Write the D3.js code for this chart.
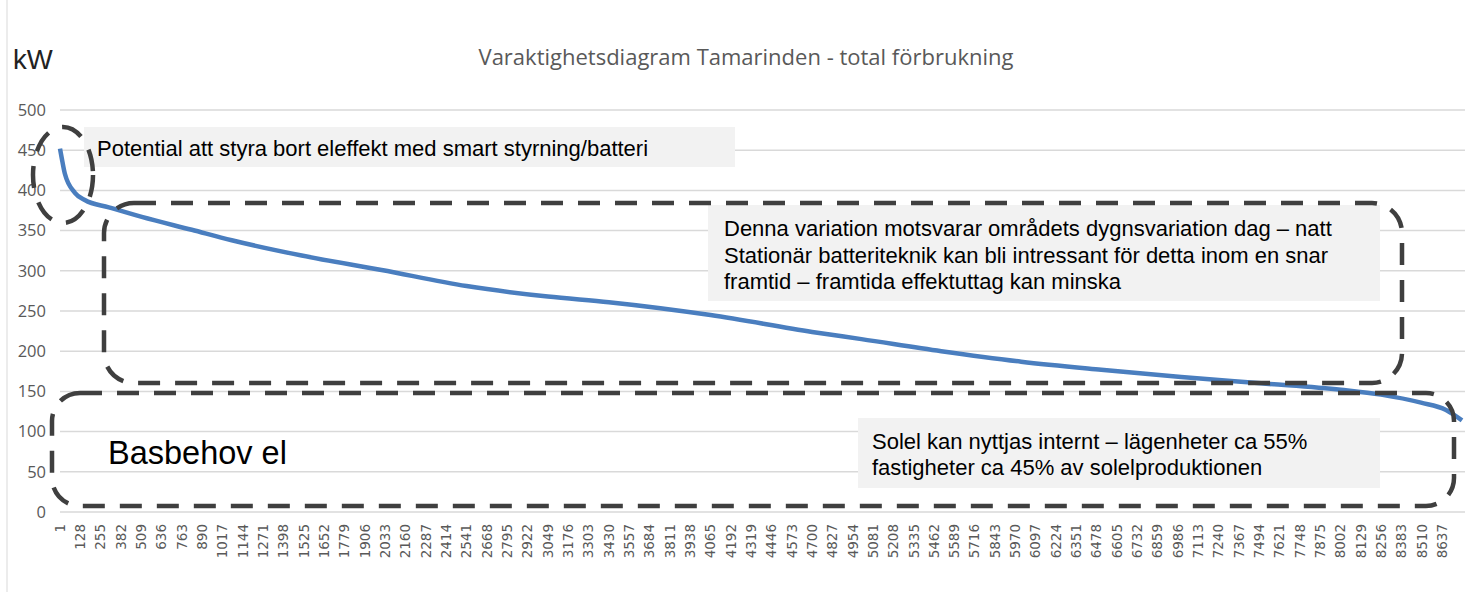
<!DOCTYPE html>
<html><head><meta charset="utf-8">
<script src="https://cdn.jsdelivr.net/npm/d3@7"></script>
<style>body{margin:0;background:#fff;}svg{display:block;}</style>
</head><body>
<svg id="c" width="1470" height="592"></svg>
<script>
// ---- data ----
const hours = [1, 12, 31, 94, 156, 306, 512, 824, 1074, 1511, 2010, 2541, 3049, 3430, 4065, 4700, 5008, 5507, 6006, 6506, 7006, 7505, 8004, 8254, 8504, 8660, 8760];
const kw    = [452, 440, 421, 397, 388, 379, 367, 351, 338, 319, 301, 281, 268, 261, 245, 224, 215, 200, 187, 177, 168, 160, 152, 146, 136, 127, 114];
const yTicks = [0, 50, 100, 150, 200, 250, 300, 350, 400, 450, 500];
const xTickLabels = d3.range(0, 69).map(k => 1 + 127 * k);
const title = "Varaktighetsdiagram Tamarinden - total förbrukning";
const yUnit = "kW";
const noteTop = ["Potential att styra bort eleffekt med smart styrning/batteri"];
const noteMid = ["Denna variation motsvarar områdets dygnsvariation dag – natt",
                 "Stationär batteriteknik kan bli intressant för detta inom en snar",
                 "framtid – framtida effektuttag kan minska"];
const noteBot = ["Solel kan nyttjas internt – lägenheter ca 55%",
                 "fastigheter ca 45% av solelproduktionen"];
const baseLabel = "Basbehov el";

const svg = d3.select("#c");
const x = d3.scaleLinear().domain([1, 8760]).range([60, 1462]);
const y = d3.scaleLinear().domain([0, 500]).range([512, 110]);

// frame
svg.append("line").attr("x1",7).attr("x2",7).attr("y1",0).attr("y2",592).attr("stroke","#d9d9d9").attr("stroke-width",1);

// gridlines
svg.append("g").selectAll("line").data(yTicks).join("line")
  .attr("x1",60).attr("x2",1465).attr("y1",d=>y(d)).attr("y2",d=>y(d))
  .attr("stroke","#d9d9d9").attr("stroke-width",1.5);

// y axis labels
const yAxis = d3.axisLeft(y).tickValues(yTicks).tickSize(0).tickPadding(0);
const ga = svg.append("g").attr("transform","translate(46,0)").call(yAxis);
ga.select(".domain").remove();
ga.selectAll("text").attr("font-family","'Open Sans',sans-serif")
  .attr("font-size",16.5).attr("fill","#595959");

// x axis labels
const gx = svg.append("g");
gx.selectAll("text").data(xTickLabels).join("text")
  .attr("transform", d => `translate(${x(d)},524) rotate(-90)`)
  .attr("text-anchor","end").attr("dy","0.35em")
  .attr("font-family","'DejaVu Sans',sans-serif").attr("font-size",13.5).attr("fill","#595959")
  .text(d=>d);

// title & unit
svg.append("text").attr("x",746).attr("y",65).attr("text-anchor","middle")
  .attr("font-family","'Open Sans',sans-serif").attr("font-size",22).attr("fill","#595959")
  .text(title);
svg.append("text").attr("x",13).attr("y",69)
  .attr("font-family","'Liberation Sans','Arial',sans-serif").attr("font-size",27.5).attr("fill","#222")
  .text(yUnit);

// curve
const pts = hours.map((h,i)=>[h, kw[i]]);
svg.append("path").datum(pts)
  .attr("d", d3.line().x(d=>x(d[0])).y(d=>y(d[1])).curve(d3.curveMonotoneX))
  .attr("fill","none").attr("stroke","#4a7ebf").attr("stroke-width",4.5);

// text boxes
const tf = "'Liberation Sans','Arial',sans-serif";
function note(lines, bx, by, bw, bh, tx, ty, lh){
  svg.append("rect").attr("x",bx).attr("y",by).attr("width",bw).attr("height",bh).attr("fill","#f2f2f2");
  svg.append("g").selectAll("text").data(lines).join("text")
    .attr("x",tx).attr("y",(d,i)=>ty+i*lh).attr("font-family",tf).attr("font-size",22).attr("fill","#000")
    .text(d=>d);
}
note(noteTop, 84, 127, 651, 40, 97, 156, 0);
note(noteMid, 708, 205, 672, 96, 724, 236, 26.5);
note(noteBot, 858, 418, 522, 70, 872, 449, 26);

svg.append("text").attr("x",108).attr("y",464).attr("font-family",tf).attr("font-size",32.5).attr("fill","#000").text(baseLabel);

// dashed annotation shapes
const dash = {stroke:"#3f3f3f", "stroke-width":4.5, "stroke-dasharray":"22,15", fill:"none"};
function applyDash(sel){ Object.entries(dash).forEach(([k,v])=>sel.attr(k,v)); return sel; }
applyDash(svg.append("ellipse").attr("cx",63).attr("cy",175).attr("rx",30).attr("ry",48));
applyDash(svg.append("rect").attr("x",104).attr("y",203).attr("width",1298).attr("height",180).attr("rx",30).attr("ry",30));
applyDash(svg.append("rect").attr("x",52).attr("y",393).attr("width",1402).attr("height",113).attr("rx",28).attr("ry",28));
</script>
</body></html>
